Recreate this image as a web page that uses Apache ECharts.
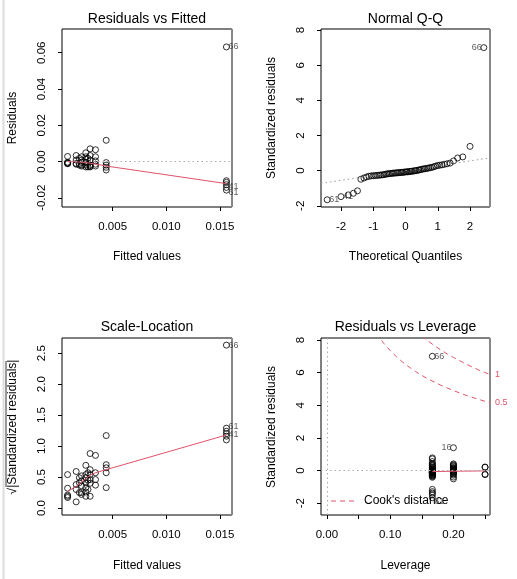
<!DOCTYPE html>
<html>
<head>
<meta charset="utf-8">
<script src="https://cdn.jsdelivr.net/npm/echarts@6/dist/echarts.min.js"></script>
<style>
html,body{margin:0;padding:0;background:#fff;}
#chart{width:517px;height:579px;}
</style>
</head>
<body>
<div id="chart"></div>
<script>
// ---------- Data ----------
// Panel 1: Residuals vs Fitted  [fitted, residual]
const rvfPoints = [
  [0.0008,0.0028],[0.0008,-0.0004],[0.0008,-0.0008],[0.0008,-0.0011],[0.0008,-0.0012],
  [0.0016,0.0033],[0.0016,0.0008],[0.0016,-0.0011],[0.0016,-0.0015],
  [0.0019,0.0017],[0.0019,-0.0011],[0.0019,-0.0020],
  [0.0021,0.0026],[0.0021,0.0008],[0.0021,-0.0004],[0.0021,-0.0020],[0.0021,-0.0025],
  [0.0025,0.0048],[0.0025,0.0026],[0.0025,0.0012],[0.0025,-0.0004],[0.0025,-0.0020],[0.0025,-0.0030],
  [0.0027,0.0017],[0.0027,-0.0011],[0.0027,-0.0030],
  [0.0029,0.0070],[0.0029,0.0033],[0.0029,0.0008],[0.0029,-0.0020],[0.0029,-0.0030],[0.0029,-0.0026],
  [0.0034,0.0065],[0.0034,0.0026],[0.0034,0.0003],[0.0034,-0.0015],[0.0034,-0.0025],
  [0.0044,0.0117],[0.0044,-0.0006],[0.0044,-0.0020],[0.0044,-0.0032],[0.0044,-0.0047],
  [0.0156,0.0632],[0.0156,-0.0106],[0.0156,-0.0115],[0.0156,-0.0128],[0.0156,-0.0143],[0.0156,-0.0158]
];
const rvfSmooth = [[0.0008,0.0000],[0.0016,-0.0002],[0.0025,-0.0006],[0.0034,-0.0014],[0.0044,-0.0025],[0.0156,-0.0122]];
const rvfLabels = [{name:'66',value:[0.0156,0.0632]},{name:'41',value:[0.0156,-0.0143]},{name:'61',value:[0.0156,-0.0158]}];
const rvfXTicks = [0.005,0.010,0.015];
const rvfYTicks = [-0.02,0.00,0.02,0.04,0.06];

// Panel 2: Normal Q-Q
const qqTheoretical = [-2.429,-2.000,-1.776,-1.616,-1.489,-1.383,-1.290,-1.207,-1.132,-1.063,-0.998,-0.937,-0.880,-0.825,-0.773,-0.723,-0.674,-0.627,-0.582,-0.537,-0.494,-0.451,-0.410,-0.369,-0.328,-0.289,-0.249,-0.210,-0.172,-0.133,-0.095,-0.057,-0.019,
  0.019,0.057,0.095,0.133,0.172,0.210,0.249,0.289,0.328,0.369,0.410,0.451,0.494,0.537,0.582,0.627,0.674,0.723,0.773,0.825,0.880,0.937,0.998,1.063,1.132,1.207,1.290,1.383,1.489,1.616,1.776,2.000,2.429];
const qqSample = [-1.66,-1.48,-1.38,-1.29,-1.15,-0.49,-0.42,-0.36,-0.32,-0.30,-0.29,-0.28,-0.27,-0.26,-0.25,-0.24,-0.23,-0.21,-0.19,-0.18,-0.17,-0.16,-0.15,-0.14,-0.14,-0.13,-0.12,-0.12,-0.11,-0.10,-0.10,-0.09,-0.08,
  -0.07,-0.07,-0.06,-0.05,-0.04,-0.03,-0.02,-0.01,0.00,0.02,0.03,0.05,0.07,0.09,0.10,0.12,0.13,0.15,0.17,0.19,0.22,0.26,0.29,0.31,0.33,0.36,0.39,0.43,0.55,0.72,0.78,1.38,7.00];
const qqLineEnds = [[-2.62,-0.726],[2.62,0.726]];
const qqLabels = [{name:'66',value:[2.429,7.00]},{name:'61',value:[-2.429,-1.66]},{name:'41',value:[-2.000,-1.48]}];
const qqXTicks = [-2,-1,0,1,2];
const qqYTicks = [-2,0,2,4,6,8];

// Panel 3: Scale-Location [fitted, sqrt|std resid|]
const slPoints = [
  [0.0008,0.54],[0.0008,0.32],[0.0008,0.21],[0.0008,0.17],[0.0008,0.19],
  [0.0016,0.59],[0.0016,0.38],[0.0016,0.30],[0.0016,0.10],
  [0.0019,0.49],[0.0019,0.41],[0.0019,0.25],
  [0.0021,0.52],[0.0021,0.44],[0.0021,0.36],[0.0021,0.25],[0.0021,0.22],
  [0.0025,0.69],[0.0025,0.54],[0.0025,0.49],[0.0025,0.41],[0.0025,0.33],[0.0025,0.26],[0.0025,0.19],
  [0.0027,0.57],[0.0027,0.30],[0.0027,0.45],
  [0.0029,0.88],[0.0029,0.62],[0.0029,0.54],[0.0029,0.46],[0.0029,0.40],[0.0029,0.19],
  [0.0034,0.85],[0.0034,0.57],[0.0034,0.46],[0.0034,0.37],
  [0.0044,1.17],[0.0044,0.70],[0.0044,0.65],[0.0044,0.57],[0.0044,0.33],
  [0.0156,2.63],[0.0156,1.29],[0.0156,1.24],[0.0156,1.20],[0.0156,1.16],[0.0156,1.10]
];
const slSmooth = [[0.0008,0.27],[0.0016,0.35],[0.0021,0.42],[0.0029,0.53],[0.0034,0.57],[0.0044,0.62],[0.0156,1.18]];
const slLabels = [{name:'66',value:[0.0156,2.63]},{name:'61',value:[0.0156,1.29]},{name:'41',value:[0.0156,1.22]}];
const slYTicks = [0.0,0.5,1.0,1.5,2.0,2.5];

// Panel 4: Residuals vs Leverage [leverage, std resid]
const lev6Values = [7.00,0.78,0.72,0.55,0.43,0.39,0.33,0.29,0.22,0.17,0.13,0.10,0.07,0.03,0.00,-0.02,-0.04,-0.06,-0.07,-0.09,-0.10,-0.11,-0.12,-0.13,-0.14,-0.15,-0.17,-0.19,-0.23,-0.26,-0.29,-0.32,-0.36,-0.41,-1.15,-1.29,-1.38,-1.48,-1.66];
const lev5Values = [1.40,0.41,0.36,0.31,0.26,0.19,0.15,0.12,0.09,0.05,0.02,-0.01,-0.05,-0.08,-0.12,-0.16,-0.21,-0.28,-0.40,-0.51];
const lev4Values = [0.22,0.20,-0.22,-0.25];
const leverageLevels = [0.1667,0.2,0.25];
const rvlSmooth = [[0.1667,-0.06],[0.2,-0.04],[0.25,-0.02]];
const cookHalf = [[0.080,8.45],[0.083,8.14],[0.09,7.79],[0.10,7.35],[0.11,6.97],[0.12,6.63],[0.13,6.34],[0.14,6.07],[0.15,5.83],[0.16,5.61],[0.18,5.23],[0.20,4.90],[0.22,4.61],[0.24,4.36],[0.258,4.15]];
const cookOne = [[0.150,8.25],[0.153,8.15],[0.16,7.94],[0.17,7.65],[0.18,7.39],[0.19,7.15],[0.20,6.93],[0.22,6.52],[0.24,6.16],[0.258,5.88]];
const rvlLabels = [{name:'66',value:[0.1667,7.00]},{name:'16',value:[0.2,1.40]},{name:'61',value:[0.1667,-1.66]}];
const rvlXTicks = [0,0.05,0.10,0.15,0.20,0.25];
const rvlXLabels = [0,0.10,0.20];
const rvlYTicks = [-2,0,2,4,6,8];

// ---------- Chart ----------
const FONT = 'Liberation Sans, Arial, Helvetica, sans-serif';
const RED = '#DF536B';
const TICK_FS = 11.5;

const lev4pts = lev4Values.map(v => [leverageLevels[2], v]);
const lev5pts = lev5Values.map(v => [leverageLevels[1], v]);
const lev6pts = lev6Values.map(v => [leverageLevels[0], v]);
const qqPoints = qqTheoretical.map((q, i) => [q, qqSample[i]]);

const grids = [
  {left:62, top:29, width:170, height:178},
  {left:321, top:29, width:169, height:178},
  {left:62, top:338, width:170, height:177},
  {left:321, top:338, width:169, height:177}
].map(g => Object.assign({show:true, borderColor:'#000', borderWidth:1, backgroundColor:'transparent'}, g));

function xAx(idx, min, max, ticks, labels, fmt) {
  return {
    type:'value', gridIndex:idx, min:min, max:max, position:'bottom',
    axisLine:{show:false, onZero:false},
    splitLine:{show:false},
    axisTick:{show:true, inside:false, length:4, customValues:ticks, lineStyle:{color:'#000'}},
    axisLabel:{customValues:labels || ticks, formatter:fmt, fontSize:TICK_FS, color:'#000', fontFamily:FONT, margin:14}
  };
}
function yAx(idx, min, max, ticks, fmt) {
  return {
    type:'value', gridIndex:idx, min:min, max:max, position:'left',
    axisLine:{show:false, onZero:false},
    splitLine:{show:false},
    axisTick:{show:true, inside:false, length:4, customValues:ticks, lineStyle:{color:'#000'}},
    axisLabel:{customValues:ticks, formatter:fmt, fontSize:TICK_FS, color:'#000', fontFamily:FONT, rotate:90, margin:14}
  };
}
const f3 = v => v.toFixed(3);
const f2 = v => v.toFixed(2);
const f1 = v => v.toFixed(1);
const f0 = v => String(Math.round(v));

const circleStyle = {color:'rgba(0,0,0,0)', borderColor:'#000', borderWidth:1};
function pts(idx, data) {
  return {type:'scatter', xAxisIndex:idx, yAxisIndex:idx, data:data, symbol:'circle', symbolSize:6,
    itemStyle:circleStyle, silent:true, z:3};
}
function smooth(idx, data) {
  return {type:'line', xAxisIndex:idx, yAxisIndex:idx, data:data, showSymbol:false, symbol:'none',
    lineStyle:{color:RED, width:1}, silent:true, z:4};
}
function labels(idx, data, pos, offsets) {
  return {type:'scatter', xAxisIndex:idx, yAxisIndex:idx, symbolSize:0, silent:true, z:5,
    data:data.map((d, i) => ({name:d.name, value:d.value,
      label:{show:true, position:pos[i], formatter:'{b}', distance:2, offset:offsets ? offsets[i] : [0,0],
        fontSize:9, color:'#333', fontFamily:FONT}}))};
}
function dotted(idx, mlData, color) {
  return {type:'line', xAxisIndex:idx, yAxisIndex:idx, data:[], silent:true,
    markLine:{silent:true, symbol:'none', animation:false, label:{show:false},
      lineStyle:{type:[1.5,3], color:color || '#aaa', width:1}, data:mlData}};
}

function txt(x, y, text, size, rot) {
  return {type:'text', x:x, y:y, rotation:rot || 0, silent:true,
    style:{text:text, fontSize:size, fontFamily:FONT, fill:'#000', align:'center', verticalAlign:'middle'}};
}

const option = {
  animation:false,
  backgroundColor:'#fff',
  grid:grids,
  xAxis:[
    xAx(0, 0.00028, 0.01612, rvfXTicks, null, f3),
    xAx(1, -2.62, 2.62, qqXTicks, null, f0),
    xAx(2, 0.00028, 0.01612, rvfXTicks, null, f3),
    xAx(3, -0.0093, 0.2578, rvlXTicks, rvlXLabels, f2)
  ],
  yAxis:[
    yAx(0, -0.0251, 0.0731, rvfYTicks, f2),
    yAx(1, -2.07, 8.06, qqYTicks, f0),
    yAx(2, -0.112, 2.745, slYTicks, f1),
    yAx(3, -2.72, 8.12, rvlYTicks, f0)
  ],
  series:[
    dotted(0, [{yAxis:0}]),
    pts(0, rvfPoints),
    smooth(0, rvfSmooth),
    labels(0, rvfLabels, ['right','right','right'], [[0,0],[0,-1],[0,2]]),

    dotted(1, [[{coord:qqLineEnds[0]},{coord:qqLineEnds[1]}]], '#999'),
    pts(1, qqPoints),
    labels(1, qqLabels, ['left','right','right']),

    pts(2, slPoints),
    smooth(2, slSmooth),
    labels(2, slLabels, ['right','right','right'], [[0,0],[0,-2],[0,2]]),

    dotted(3, [{yAxis:0},{xAxis:0}]),
    {type:'line', xAxisIndex:3, yAxisIndex:3, data:cookHalf, showSymbol:false, symbol:'none', clip:true,
      lineStyle:{color:RED, width:1, type:[5,4]}, silent:true, z:2},
    {type:'line', xAxisIndex:3, yAxisIndex:3, data:cookOne, showSymbol:false, symbol:'none', clip:true,
      lineStyle:{color:RED, width:1, type:[5,4]}, silent:true, z:2},
    pts(3, lev6pts),
    pts(3, lev5pts),
    pts(3, lev4pts),
    smooth(3, rvlSmooth),
    labels(3, rvlLabels, ['right','left','right'], [[0,0],[0,0],[0,4]])
  ],
  graphic:[
    {type:'line', silent:true, shape:{x1:3.5, y1:0, x2:3.5, y2:579}, style:{stroke:'#ddd', lineWidth:2}},
    {type:'line', silent:true, shape:{x1:232, y1:29, x2:232, y2:207}, style:{stroke:'#888', lineWidth:2}},
    {type:'line', silent:true, shape:{x1:490, y1:29, x2:490, y2:207}, style:{stroke:'#888', lineWidth:2}},
    {type:'line', silent:true, shape:{x1:232, y1:338, x2:232, y2:515}, style:{stroke:'#888', lineWidth:2}},
    {type:'line', silent:true, shape:{x1:490, y1:338, x2:490, y2:515}, style:{stroke:'#888', lineWidth:2}},

    txt(147, 19, 'Residuals vs Fitted', 14),
    txt(405.5, 19, 'Normal Q-Q', 14),
    txt(147, 327.5, 'Scale-Location', 14),
    txt(405.5, 327.5, 'Residuals vs Leverage', 14),

    txt(147, 257, 'Fitted values', 12),
    txt(405.5, 257, 'Theoretical Quantiles', 12),
    txt(147, 566, 'Fitted values', 12),
    txt(405.5, 566, 'Leverage', 12),

    txt(13, 118, 'Residuals', 12, Math.PI/2),
    txt(272, 118, 'Standardized residuals', 12, Math.PI/2),
    txt(13, 427, '\u221A|Standardized residuals|', 12, Math.PI/2),
    txt(272, 427, 'Standardized residuals', 12, Math.PI/2),
    {type:'line', silent:true, shape:{x1:6, y1:361, x2:6, y2:487}, style:{stroke:'#000', lineWidth:0.8}},

    // Cook's distance legend and contour labels
    {type:'line', silent:true, shape:{x1:331, y1:501, x2:354, y2:501}, style:{stroke:RED, lineWidth:1, lineDash:[5,4]}},
    {type:'text', silent:true, x:364, y:501, style:{text:"Cook's distance", fontSize:12, fontFamily:FONT, fill:'#000', align:'left', verticalAlign:'middle'}},
    {type:'text', silent:true, x:495, y:375, style:{text:'1', fontSize:9, fontFamily:FONT, fill:RED, align:'left', verticalAlign:'middle'}},
    {type:'text', silent:true, x:495, y:403, style:{text:'0.5', fontSize:9, fontFamily:FONT, fill:RED, align:'left', verticalAlign:'middle'}}
  ]
};

const chart = echarts.init(document.getElementById('chart'), null, {renderer:'canvas'});
chart.setOption(option);
</script>
</body>
</html>
